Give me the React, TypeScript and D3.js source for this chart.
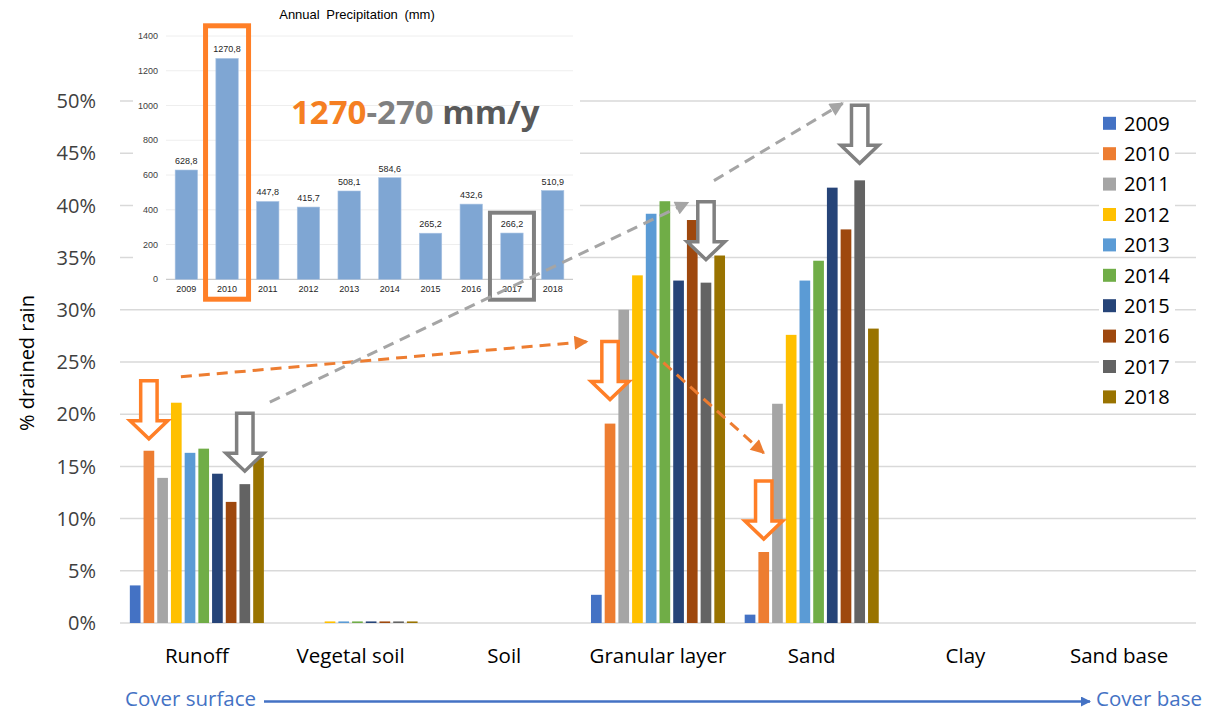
import React from "react";
import * as d3 from "d3";

const categories = ["Runoff", "Vegetal soil", "Soil", "Granular layer", "Sand", "Clay", "Sand base"];
const years = ["2009", "2010", "2011", "2012", "2013", "2014", "2015", "2016", "2017", "2018"];
const colors = ["#4472C4", "#ED7D31", "#A5A5A5", "#FFC000", "#5B9BD5", "#70AD47", "#264478", "#9E480E", "#636363", "#997300"];

// % drained rain per category, one array per year (series)
const runoff = [3.6, 16.5, 13.9, 21.1, 16.3, 16.7, 14.3, 11.6, 13.3, 15.8];
const vegetalSoil = [0, 0, 0, 0.15, 0.15, 0.15, 0.15, 0.15, 0.15, 0.15];
const soil = [0, 0, 0, 0, 0, 0, 0, 0, 0, 0];
const granularLayer = [2.7, 19.1, 30.0, 33.3, 39.2, 40.4, 32.8, 38.6, 32.6, 35.2];
const sand = [0.8, 6.8, 21.0, 27.6, 32.8, 34.7, 41.7, 37.7, 42.4, 28.2];
const clay = [0, 0, 0, 0, 0, 0, 0, 0, 0, 0];
const sandBase = [0, 0, 0, 0, 0, 0, 0, 0, 0, 0];
const values = [runoff, vegetalSoil, soil, granularLayer, sand, clay, sandBase];

const yTicks = [0, 5, 10, 15, 20, 25, 30, 35, 40, 45, 50];

// inset: annual precipitation (mm)
const precipitation = [628.8, 1270.8, 447.8, 415.7, 508.1, 584.6, 265.2, 432.6, 266.2, 510.9];
const insetTicks = [0, 200, 400, 600, 800, 1000, 1200, 1400];

// annotations: hollow down arrows over bars
const arrows = [
  { id: "A", cat: "Runoff", year: "2010", gap: 10, color: "#FF7F27" },
  { id: "B", cat: "Runoff", year: "2017", gap: 11, color: "#808080" },
  { id: "C", cat: "Granular layer", year: "2010", gap: 22, color: "#FF7F27" },
  { id: "D", cat: "Granular layer", year: "2017", gap: 21, color: "#808080" },
  { id: "E", cat: "Sand", year: "2010", gap: 11, color: "#FF7F27" },
  { id: "F", cat: "Sand", year: "2017", gap: 15, color: "#808080" },
];
const connectors = [
  { from: "A", fdx: 32, fdy: -2, to: "C", tdx: -23, tdy: 2, color: "#ED7D31" },
  { from: "B", fdx: 25, fdy: -9, to: "D", tdx: -18, tdy: 3, color: "#A5A5A5" },
  { from: "D", fdx: 8, fdy: -19, to: "F", tdx: -17, tdy: 0, color: "#A5A5A5" },
  { from: "C", fdx: 40, fdy: 11, to: "E", tdx: 0, tdy: -26, color: "#ED7D31" },
];

const FONT = "'Open Sans', sans-serif";
const IFONT = "'Liberation Sans', Arial, sans-serif";

export default function App() {
  const W = 1208, H = 714;
  const x = d3.scaleBand<string>().domain(categories).range([120, 1196]).paddingInner(0.128).paddingOuter(0.064);
  const xi = d3.scaleBand<string>().domain(years).range([0, x.bandwidth()]).paddingInner(0.22).paddingOuter(0);
  const y = d3.scaleLinear().domain([0, 50]).range([623, 101]);

  const ix = d3.scaleBand<string>().domain(years).range([166, 573]).paddingInner(0.45).paddingOuter(0.225);
  const iy = d3.scaleLinear().domain([0, 1400]).range([279.3, 36]);
  const fmt = (v: number) => d3.format(".1f")(v).replace(".", ",");

  const arrowPos: Record<string, { cx: number; tip: number; top: number }> = {};
  arrows.forEach((a) => {
    const ci = categories.indexOf(a.cat);
    const yi = years.indexOf(a.year);
    const cx = (x(a.cat) as number) + (xi(a.year) as number) + xi.bandwidth() / 2;
    const tip = y(values[ci][yi]) - a.gap;
    arrowPos[a.id] = { cx, tip, top: tip - 62 };
  });

  const arrowPath = (cx: number, tip: number) => {
    const sh = 8.2, hh = 18.8, top = tip - 60, hb = tip - 20;
    return `M${cx - sh},${top}L${cx + sh},${top}L${cx + sh},${hb}L${cx + hh},${hb}L${cx},${tip - 2}L${cx - hh},${hb}L${cx - sh},${hb}Z`;
  };

  const boxes = [
    { year: "2010", top: 23.3, color: "#FF7F27", w: 5 },
    { year: "2017", top: 210.7, color: "#808080", w: 4 },
  ];

  return (
    <svg width={W} height={H} style={{ display: "block", position: "absolute", left: 0, top: 0 }}>
      <defs>
        <marker id="mo" viewBox="0 0 10 10" refX="9" refY="5" markerWidth="16" markerHeight="14" markerUnits="userSpaceOnUse" orient="auto">
          <path d="M0,0L10,5L0,10Z" fill="#ED7D31" />
        </marker>
        <marker id="mg" viewBox="0 0 10 10" refX="9" refY="5" markerWidth="16" markerHeight="14" markerUnits="userSpaceOnUse" orient="auto">
          <path d="M0,0L10,5L0,10Z" fill="#A5A5A5" />
        </marker>
        <marker id="mb" viewBox="0 0 10 10" refX="9" refY="5" markerWidth="11" markerHeight="10" markerUnits="userSpaceOnUse" orient="auto">
          <path d="M0,0L10,5L0,10Z" fill="#4472C4" />
        </marker>
      </defs>
      <rect width={W} height={H} fill="#fff" />

      {/* main gridlines */}
      {yTicks.map((t) => (
        <line key={t} x1={120} x2={1196} y1={y(t)} y2={y(t)} stroke="#d9d9d9" strokeWidth={1.5} />
      ))}
      {yTicks.map((t) => (
        <text key={"l" + t} x={96} y={y(t)} dy="0.36em" textAnchor="end" fontFamily={FONT} fontSize={20} fill="#404040">
          {t}%
        </text>
      ))}
      <text transform="translate(34,363) rotate(-90)" textAnchor="middle" fontFamily={FONT} fontSize={20} fill="#000">
        % drained rain
      </text>

      {/* category labels */}
      {categories.map((c) => (
        <text key={c} x={(x(c) as number) + x.bandwidth() / 2} y={663} textAnchor="middle" fontFamily={FONT} fontSize={20.5} fill="#000">
          {c}
        </text>
      ))}

      {/* inset chart */}
      <g>
        <rect x={133} y={0} width={447} height={307} fill="#fff" />
        <text x={357} y={19} textAnchor="middle" fontFamily={IFONT} fontSize={13} fill="#000" wordSpacing={3}>
          Annual Precipitation (mm)
        </text>
        {insetTicks.map((t) => (
          <g key={t}>
            <line x1={166} x2={573} y1={iy(t)} y2={iy(t)} stroke={t === 0 ? "#bfbfbf" : "#eeeeee"} strokeWidth={1} />
            <text x={158} y={iy(t)} dy="0.35em" textAnchor="end" fontFamily={IFONT} fontSize={9} fill="#404040">
              {t}
            </text>
          </g>
        ))}
        {years.map((yr, i) => (
          <g key={yr}>
            <rect x={ix(yr)} y={iy(precipitation[i])} width={ix.bandwidth()} height={iy(0) - iy(precipitation[i])} fill="#7FA6D3" stroke="#a9c3e3" strokeWidth={0.6} />
            <text x={(ix(yr) as number) + ix.bandwidth() / 2} y={iy(precipitation[i]) - 6} textAnchor="middle" fontFamily={IFONT} fontSize={9} fill="#262626">
              {fmt(precipitation[i])}
            </text>
            <text x={(ix(yr) as number) + ix.bandwidth() / 2} y={292} textAnchor="middle" fontFamily={IFONT} fontSize={9} fill="#262626">
              {yr}
            </text>
          </g>
        ))}
        {boxes.map((b) => {
          const cx = (ix(b.year) as number) + ix.bandwidth() / 2;
          const half = 24 - b.w / 2;
          return (
            <rect key={b.year} x={cx - half} y={b.top + b.w / 2} width={half * 2} height={301.7 - b.w / 2 - (b.top + b.w / 2)} fill="none" stroke={b.color} strokeWidth={b.w} />
          );
        })}
        <text x={291} y={124} fontFamily={FONT} fontWeight={700} fontSize={33}>
          <tspan fill="#F57F22">1270</tspan>
          <tspan fill="#808080">-270</tspan>
          <tspan fill="#595959"> mm/y</tspan>
        </text>
      </g>

      {/* bars */}
      {categories.map((c, ci) => (
        <g key={c} transform={`translate(${x(c)},0)`}>
          {years.map((yr, i) =>
            values[ci][i] > 0 ? (
              <rect key={yr} x={xi(yr)} y={y(values[ci][i])} width={xi.bandwidth()} height={y(0) - y(values[ci][i])} fill={colors[i]} />
            ) : null
          )}
        </g>
      ))}

      {/* dashed connectors */}
      {connectors.map((k, i) => {
        const f = arrowPos[k.from], t = arrowPos[k.to];
        const x1 = f.cx + k.fdx, y1 = f.top + k.fdy, x2 = t.cx + k.tdx, y2 = t.top + k.tdy;
        return (
          <line key={i} x1={x1} y1={y1} x2={x2} y2={y2} stroke={k.color} strokeWidth={3} strokeDasharray="11,7" markerEnd={`url(#${k.color === "#ED7D31" ? "mo" : "mg"})`} />
        );
      })}

      {/* hollow block arrows */}
      {arrows.map((a) => (
        <path key={a.id} d={arrowPath(arrowPos[a.id].cx, arrowPos[a.id].tip)} fill="#fff" stroke={a.color} strokeWidth={3.5} strokeLinejoin="miter" />
      ))}

      {/* legend */}
      {years.map((yr, i) => {
        const cy = 123.3 + i * 30.4;
        return (
          <g key={yr}>
            <rect x={1099} y={cy - 11} width={76} height={22} fill="#fff" />
            <rect x={1103} y={cy - 6.5} width={13} height={13} fill={colors[i]} />
            <text x={1124} y={cy} dy="0.36em" fontFamily={FONT} fontSize={20} fill="#000">
              {yr}
            </text>
          </g>
        );
      })}

      {/* bottom direction arrow */}
      <text x={125} y={706} fontFamily={FONT} fontSize={20.5} fill="#4472C4">Cover surface</text>
      <line x1={264} x2={1090} y1={701.5} y2={701.5} stroke="#4472C4" strokeWidth={2.5} markerEnd="url(#mb)" />
      <text x={1096} y={706} fontFamily={FONT} fontSize={20.5} fill="#4472C4">Cover base</text>
    </svg>
  );
}
